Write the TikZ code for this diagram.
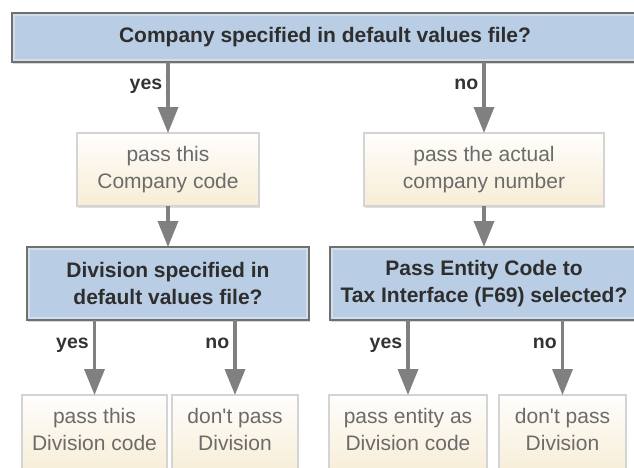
\documentclass[tikz,border=0pt]{standalone}
\usepackage{fontspec}
\setmainfont{Liberation Sans}
\usepackage{xcolor}
\usetikzlibrary{arrows.meta, positioning, shadows}
\definecolor{askfill}{HTML}{B9CDE5}
\definecolor{askline}{HTML}{707070}
\definecolor{askrim}{HTML}{D3DEEC}
\definecolor{passtop}{HTML}{FFFEFC}
\definecolor{passbot}{HTML}{F7EDD6}
\definecolor{passline}{HTML}{D4D4D4}
\definecolor{flowgray}{HTML}{808080}
\tikzset{
	x = 1pt,
	y = -1pt,
	node distance = 41pt,
	ask/.style={
		draw=askline,
		fill=askfill,
		line width=1.4pt,
		inner sep=0pt,
		outer sep=0pt,
		align=center,
		minimum height=73pt,
		font=\fontsize{21}{27}\selectfont\bfseries,
		text=black!82,
		drop shadow={shadow xshift=1.2pt, shadow yshift=-1.6pt, opacity=.3},
		path picture={
			\draw[askrim, line width=2pt]
				([shift={(1.8pt,-1.8pt)}]path picture bounding box.north west) rectangle
				([shift={(-1.8pt,1.8pt)}]path picture bounding box.south east);
		}
	},
	pass/.style={
		draw=passline,
		line width=1.2pt,
		top color=passtop,
		bottom color=passbot,
		inner sep=0pt,
		outer sep=0pt,
		align=center,
		minimum height=73pt,
		font=\fontsize{21}{27}\selectfont,
		text=black!58,
		drop shadow={shadow xshift=1.2pt, shadow yshift=-1.6pt, opacity=.25}
	},
	link/.style={
		-{Triangle[width=20pt,length=26pt]},
		draw=flowgray,
		line width=3.5pt
	},
	lbl/.style={
		font=\fontsize{19.5}{19.5}\selectfont\bfseries,
		text=black!80,
		text height=10pt,
		text depth=4pt,
		inner sep=4pt
	}
}

\begin{document}
\begin{tikzpicture}
	\clip (0,0) rectangle (634,467);
	\fill[white] (0,0) rectangle (634,467);

	\node[ask, minimum width=626pt, minimum height=49pt] at (325,37.5) (ask-co) {Company specified in default values file?};
	\node[pass, minimum width=182pt] at (168,169.5) (pass-co) {pass this\\Company code};
	\node[pass, minimum width=240pt] at (484,169.5) (pass-nr) {pass the actual\\company number};
	\node[ask, minimum width=282pt, below=of pass-co] (ask-div) {Division specified in\\default values file?};
	\node[ask, minimum width=308pt, below=of pass-nr] (ask-ent) {Pass Entity Code to\\Tax Interface (F69) selected?};

	\foreach \n/\cx/\w/\txt in {1/94.5/145/{pass this\\Division code}, 2/235/126/{don\textquotesingle t pass\\Division}, 3/408/158/{pass entity as\\Division code}, 4/562.5/127/{don\textquotesingle t pass\\Division}} {
		\node[pass, minimum width=\w pt, minimum height=80pt, text depth=12pt] at (\cx,435) (res-\n) {\txt};
	}

	\draw[link] (ask-co.south -| pass-co) -- node[lbl, left, pos=.34] {yes} (pass-co);
	\draw[link] (ask-co.south -| pass-nr) -- node[lbl, left, pos=.34] {no} (pass-nr);
	\draw[link] (pass-co) -- (ask-div);
	\draw[link] (pass-nr) -- (pass-nr |- ask-ent.north);
	\foreach \n/\q/\ans in {1/div/yes, 2/div/no, 3/ent/yes, 4/ent/no} {
		\draw[link] (ask-\q.south -| res-\n) -- node[lbl, left, pos=.34] {\ans} (res-\n);
	}
\end{tikzpicture}
\end{document}
